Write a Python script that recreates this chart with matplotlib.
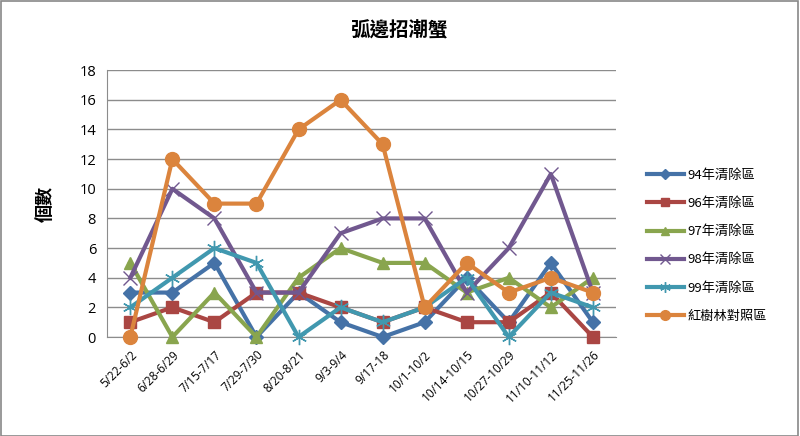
import matplotlib
matplotlib.use("Agg")
import matplotlib.pyplot as plt
from matplotlib.lines import Line2D

plt.rcParams['font.family'] = ['Noto Sans CJK TC', 'DejaVu Sans']

categories = ["5/22-6/2", "6/28-6/29", "7/15-7/17", "7/29-7/30", "8/20-8/21", "9/3-9/4",
              "9/17-18", "10/1-10/2", "10/14-10/15", "10/27-10/29", "11/10-11/12", "11/25-11/26"]
s94 = [3, 3, 5, 0, 3, 1, 0, 1, 4, 1, 5, 1]
s96 = [1, 2, 1, 3, 3, 2, 1, 2, 1, 1, 3, 0]
s97 = [5, 0, 3, 0, 4, 6, 5, 5, 3, 4, 2, 4]
s98 = [4, 10, 8, 3, 3, 7, 8, 8, 3, 6, 11, 3]
s99 = [2, 4, 6, 5, 0, 2, 1, 2, 4, 0, 3, 2]
ctrl = [0, 12, 9, 9, 14, 16, 13, 2, 5, 3, 4, 3]
names = ["94年清除區", "96年清除區", "97年清除區", "98年清除區", "99年清除區", "紅樹林對照區"]
yticks = list(range(0, 19, 2))

fig = plt.figure(figsize=(8, 4.36), dpi=100)
fig.patch.set_facecolor('white')
fig.add_artist(plt.Rectangle((0.001, 0.001), 0.997, 0.996, transform=fig.transFigure,
                             fill=False, edgecolor='#888888', linewidth=1.2))

ax = fig.add_axes([0.134, 0.227, 0.636, 0.612])
x = list(range(len(categories)))

styles = [
    (s94, '#4572A7', dict(marker='D', markersize=7)),
    (s96, '#AA4643', dict(marker='s', markersize=9)),
    (s97, '#89A54E', dict(marker='^', markersize=9)),
    (s98, '#71588F', dict(marker='x', markersize=10, markeredgewidth=1.0)),
    (s99, '#4198AF', dict(marker=(6, 2, 0), markersize=11, markeredgewidth=1.0)),
    (ctrl, '#DB843D', dict(marker='o', markersize=10)),
]
handles = []
for (vals, col, mk), nm in zip(styles, names):
    ax.plot(x, vals, color=col, linewidth=3, markerfacecolor=col, markeredgecolor=col,
            zorder=3, clip_on=False, **mk)
    handles.append(Line2D([0], [0], color=col, linewidth=3, markerfacecolor=col,
                          markeredgecolor=col, **{**mk, 'markersize': mk['markersize'] * 0.7}))

ax.set_ylim(0, 18)
ax.set_xlim(-0.55, len(categories) - 0.45)
ax.set_yticks(yticks)
ax.set_yticklabels([str(v) for v in yticks], fontsize=10.5, family='Open Sans')
ax.yaxis.grid(True, color='#8c8c8c', linewidth=1)
ax.set_axisbelow(True)
ax.tick_params(axis='y', length=0, pad=8)
ax.tick_params(axis='x', length=0, pad=8)
ax.set_xticks(x)
ax.set_xticklabels(categories, rotation=45, ha='right', rotation_mode='anchor',
                   fontsize=8.5, family='Open Sans')
for sp in ['top', 'right']:
    ax.spines[sp].set_visible(False)
for sp in ['left', 'bottom']:
    ax.spines[sp].set_color('#8c8c8c')

ax.set_ylabel("個數", fontsize=13, fontweight='bold', labelpad=18)

fig.text(0.5, 0.93, "弧邊招潮蟹", ha='center', va='center', fontsize=14, fontweight='bold')

leg = fig.legend(handles, names, loc='upper left', bbox_to_anchor=(0.802, 0.625),
                 frameon=False, fontsize=9.5, handlelength=2.8, labelspacing=1.15,
                 handletextpad=0.3, borderaxespad=0)

fig.savefig("out.png", dpi=100, facecolor='white')
